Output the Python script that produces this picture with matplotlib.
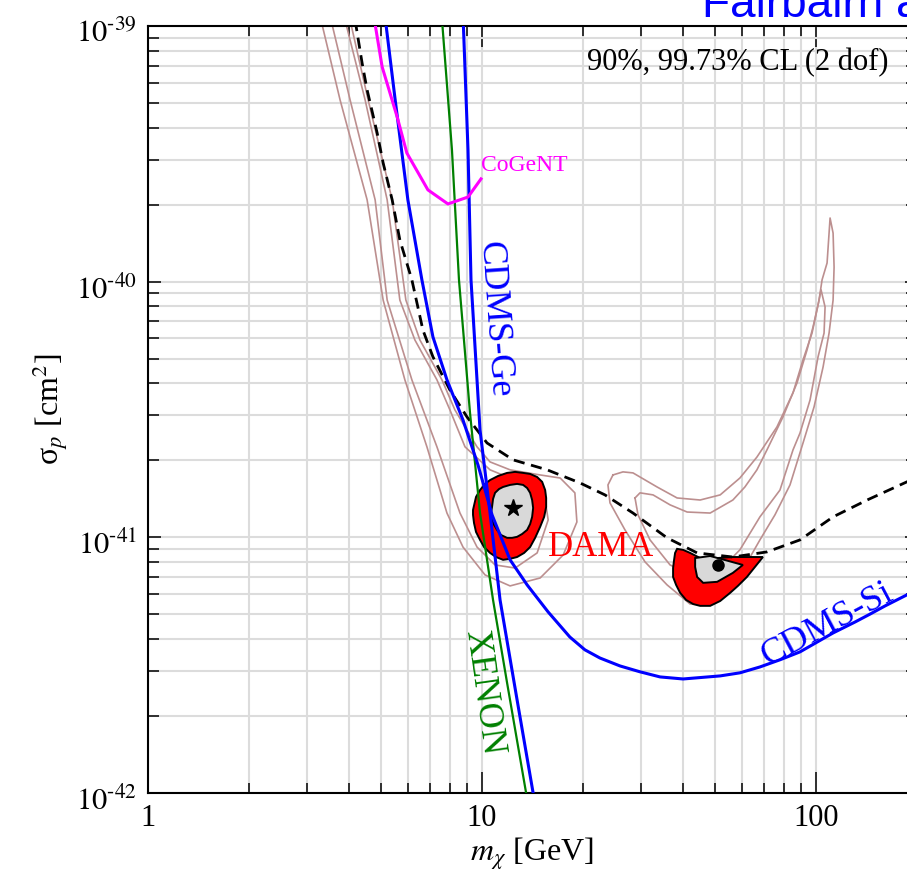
import numpy as np
import matplotlib.pyplot as plt
from matplotlib import ticker
from matplotlib.transforms import ScaledTranslation

plt.rcParams['font.family'] = 'Liberation Serif'
plt.rcParams['mathtext.fontset'] = 'stix'

# values, stored as log10(m / GeV) and log10(sigma_p / cm^2)
cdms_si_lm = [0.705, 0.713, 0.740, 0.778, 0.820, 0.853, 0.895, 0.943, 0.988, 1.030, 1.084, 1.135,
              1.198, 1.263, 1.308, 1.353, 1.413, 1.473, 1.533, 1.602, 1.713, 1.772, 1.832, 1.892,
              1.952, 2.051, 2.117, 2.162, 2.207, 2.272, 2.302]
cdms_si_ls = [-38.97, -39.000, -39.289, -39.680, -39.993, -40.216, -40.384, -40.541, -40.717,
              -40.912, -41.088, -41.186, -41.292, -41.390, -41.440, -41.472, -41.503, -41.526,
              -41.546, -41.554, -41.542, -41.530, -41.507, -41.479, -41.448, -41.374, -41.331,
              -41.300, -41.268, -41.225, -41.202]

cdms_ge_lm = [0.944, 0.958, 0.967, 0.994, 1.024, 1.054, 1.105, 1.153, 1.165]
cdms_ge_ls = [-38.99, -39.485, -39.993, -40.580, -40.905, -41.245, -41.636, -42.000, -42.106]

xenon_lm = [0.881, 0.910, 0.931, 0.964, 0.994, 1.033, 1.075, 1.132, 1.144]
xenon_ls = [-38.99, -39.485, -39.993, -40.513, -40.905, -41.245, -41.569, -42.000, -42.106]

cogent_lm = [0.677, 0.701, 0.746, 0.775, 0.838, 0.898, 0.958, 0.997]
cogent_ls = [-38.97, -39.160, -39.356, -39.497, -39.641, -39.696, -39.669, -39.598]

dashed_lm = [0.620, 0.641, 0.656, 0.686, 0.704, 0.731, 0.754, 0.790, 0.823, 0.853, 0.904, 0.955,
             1.015, 1.093, 1.195, 1.293, 1.368, 1.452, 1.554, 1.644, 1.751, 1.853, 1.952, 2.051,
             2.153, 2.272, 2.302]
dashed_ls = [-38.977, -39.145, -39.250, -39.418, -39.536, -39.680, -39.837, -39.993, -40.189,
             -40.294, -40.424, -40.529, -40.631, -40.697, -40.736, -40.787, -40.834, -40.905,
             -41.002, -41.061, -41.077, -41.057, -41.010, -40.920, -40.854, -40.783, -40.768]

# brown contours (90% and 99.73%), low-mass and high-mass islands
low_out_lm = [0.518, 0.575, 0.656, 0.704, 0.769, 0.835, 0.895, 0.943, 1.009, 1.084, 1.174, 1.243,
              1.284, 1.278, 1.234, 1.174, 1.084, 1.024, 0.985, 0.919, 0.880, 0.814, 0.772, 0.731,
              0.659, 0.605]
low_out_ls = [-38.977, -39.289, -39.680, -40.072, -40.384, -40.646, -40.905, -41.038, -41.147,
              -41.190, -41.159, -41.069, -40.940, -40.826, -40.768, -40.756, -40.736, -40.705,
              -40.646, -40.502, -40.384, -40.228, -40.072, -39.680, -39.289, -38.977]
low_in_lm = [0.548, 0.605, 0.680, 0.716, 0.790, 0.865, 0.934, 0.985, 1.039, 1.099, 1.165, 1.198,
             1.189, 1.144, 1.084, 1.024, 0.949, 0.904, 0.865, 0.799, 0.754, 0.716, 0.650, 0.590]
low_in_ls = [-38.977, -39.289, -39.680, -40.072, -40.384, -40.646, -40.905, -41.038, -41.108,
             -41.120, -41.061, -40.932, -40.854, -40.795, -40.768, -40.736, -40.646, -40.502,
             -40.384, -40.228, -40.072, -39.680, -39.289, -38.977]
high_out_lm = [1.392, 1.422, 1.452, 1.524, 1.584, 1.653, 1.713, 1.772, 1.823, 1.883, 1.931, 1.961,
               1.988, 2.009, 2.018, 2.033, 2.042, 2.051, 2.054, 2.051, 2.039, 2.021, 1.994, 1.961,
               1.922, 1.877, 1.832, 1.772, 1.698, 1.623, 1.554, 1.488, 1.428, 1.383, 1.377, 1.392]
high_out_ls = [-40.756, -40.744, -40.748, -40.803, -40.846, -40.854, -40.834, -40.768, -40.686,
               -40.568, -40.435, -40.306, -40.201, -40.072, -39.993, -39.927, -39.751, -39.810,
               -39.943, -40.072, -40.201, -40.334, -40.490, -40.631, -40.795, -40.912, -41.010,
               -41.147, -41.257, -41.261, -41.186, -41.096, -40.971, -40.865, -40.795, -40.756]
high_in_lm = [1.458, 1.473, 1.512, 1.563, 1.614, 1.683, 1.751, 1.787, 1.823, 1.853, 1.901, 1.943,
              1.973, 1.991, 2.006, 2.015, 2.027, 2.024, 2.006, 1.982, 1.952, 1.931, 1.892, 1.832,
              1.772, 1.713, 1.638, 1.563, 1.503, 1.467, 1.458]
high_in_ls = [-40.846, -40.826, -40.834, -40.873, -40.901, -40.905, -40.854, -40.803, -40.736,
              -40.658, -40.529, -40.396, -40.267, -40.177, -40.091, -40.032, -40.099, -40.201,
              -40.294, -40.463, -40.592, -40.658, -40.815, -40.920, -41.049, -41.127, -41.155,
              -41.108, -41.010, -40.912, -40.846]

# DAMA regions (red 99.73%, grey 90%) and best-fit points
dama_lo99_lm = [0.973, 0.982, 0.994, 1.009, 1.024, 1.048, 1.075, 1.099, 1.123, 1.144, 1.165, 1.180,
                1.189, 1.192, 1.192, 1.186, 1.174, 1.159, 1.144, 1.126, 1.105, 1.084, 1.063, 1.042,
                1.024, 1.006, 0.994, 0.982, 0.976, 0.973]
dama_lo99_ls = [-40.893, -40.842, -40.815, -40.791, -40.776, -40.760, -40.748, -40.744, -40.748,
                -40.752, -40.764, -40.783, -40.815, -40.846, -40.881, -40.920, -40.959, -41.002,
                -41.038, -41.061, -41.077, -41.084, -41.088, -41.077, -41.061, -41.038, -41.010,
                -40.979, -40.944, -40.912]
dama_lo90_lm = [1.030, 1.033, 1.039, 1.051, 1.063, 1.084, 1.105, 1.123, 1.135, 1.144, 1.150, 1.153,
                1.150, 1.144, 1.135, 1.120, 1.105, 1.090, 1.075, 1.057, 1.045, 1.036, 1.030, 1.027]
dama_lo90_ls = [-40.881, -40.850, -40.826, -40.811, -40.803, -40.795, -40.791, -40.795, -40.807,
                -40.826, -40.854, -40.885, -40.920, -40.948, -40.971, -40.987, -40.998, -41.002,
                -41.002, -40.991, -40.971, -40.951, -40.932, -40.905]
dama_hi99_lm = [1.841, 1.817, 1.793, 1.766, 1.743, 1.713, 1.683, 1.653, 1.632, 1.611, 1.593, 1.581,
                1.572, 1.572, 1.575, 1.578, 1.584, 1.602, 1.623, 1.653, 1.704, 1.751, 1.796]
dama_hi99_ls = [-41.077, -41.116, -41.155, -41.190, -41.217, -41.249, -41.268, -41.268, -41.261,
                -41.245, -41.217, -41.186, -41.155, -41.120, -41.088, -41.061, -41.045, -41.049,
                -41.061, -41.081, -41.081, -41.077, -41.077]
dama_hi90_lm = [1.638, 1.683, 1.781, 1.751, 1.704, 1.662, 1.644, 1.638]
dama_hi90_ls = [-41.081, -41.073, -41.108, -41.139, -41.174, -41.178, -41.155, -41.116]
best_lo = (1.093, -40.885)
best_hi = (1.707, -41.108)

x_ticks = [1, 10, 100]
y_ticks = [1e-42, 1e-41, 1e-40, 1e-39]


def pts(lm, ls):
    return 10 ** np.array(lm), 10 ** np.array(ls)


fig = plt.figure(figsize=(9.07, 8.73), dpi=100)
# the right end of the axes sits just past the figure edge, as in the original crop
ax = fig.add_axes([148 / 907, 80 / 873, 768.6 / 907, 767 / 873])
ax.set_xscale('log')
ax.set_yscale('log')
ax.set_xlim(1, 200)
ax.set_ylim(1e-42, 1e-39)
ax.set_xticks(x_ticks)
ax.set_yticks(y_ticks)

ax.set_axisbelow(True)
ax.grid(which='both', color='#dcdcdc', lw=1.5)

brown = '#bc8f8f'
for lm, ls in [(low_out_lm, low_out_ls), (low_in_lm, low_in_ls),
               (high_out_lm, high_out_ls), (high_in_lm, high_in_ls)]:
    ax.plot(*pts(lm, ls), color=brown, lw=1.2, zorder=2)

ax.fill(*pts(dama_lo99_lm, dama_lo99_ls), fc='red', ec='black', lw=1.4, zorder=3)
ax.fill(*pts(dama_lo90_lm, dama_lo90_ls), fc='#d9d9d9', ec='black', lw=1.4, zorder=3)
ax.fill(*pts(dama_hi99_lm, dama_hi99_ls), fc='red', ec='black', lw=1.4, zorder=3)
ax.fill(*pts(dama_hi90_lm, dama_hi90_ls), fc='#d9d9d9', ec='black', lw=1.4, zorder=3)
ax.plot(10 ** best_lo[0], 10 ** best_lo[1], marker='*', color='black', ms=13, zorder=4)
ax.plot(10 ** best_hi[0], 10 ** best_hi[1], marker='o', color='black', ms=8, zorder=4)

ax.plot(*pts(dashed_lm, dashed_ls), color='black', lw=2.0, dashes=(4, 2.4), zorder=4)
ax.plot(*pts(xenon_lm, xenon_ls), color='#008000', lw=1.6, zorder=5)
ax.plot(*pts(cdms_ge_lm, cdms_ge_ls), color='blue', lw=2.2, zorder=5)
ax.plot(*pts(cdms_si_lm, cdms_si_ls), color='blue', lw=2.2, zorder=5)
ax.plot(*pts(cogent_lm, cogent_ls), color='magenta', lw=2.2, zorder=5)

ax.text(9.9, 2.85e-40, 'CoGeNT', color='magenta', fontsize=17, ha='left', va='center')
ax.text(10.9, 7.1e-41, 'CDMS-Ge', color='blue', fontsize=26, rotation=-86,
        ha='center', va='center', rotation_mode='anchor')
ax.text(10.07, 2.47e-42, 'XENON', color='#008000', fontsize=26, rotation=-82,
        ha='center', va='center', rotation_mode='anchor')
ax.text(22.7, 9.1e-42, 'DAMA', color='red', fontsize=25, ha='center', va='center')
ax.text(108, 4.55e-42, 'CDMS-Si', color='blue', fontsize=26, rotation=28,
        ha='center', va='center', rotation_mode='anchor')

fig.text(587 / 907, 1 - 70 / 873, '90%, 99.73% CL (2 dof)', fontsize=22, va='baseline')
fig.text(702 / 907, 1 - 17 / 873, 'Fairbairn and Schwetz', fontsize=33, color='blue',
         family='Liberation Sans', va='baseline')

for s in ax.spines.values():
    s.set_linewidth(1.5)
ax.tick_params(which='both', direction='in', top=True, right=True, width=1.1, labelsize=22)
ax.tick_params(axis='x', which='major', length=15, pad=8)
ax.tick_params(axis='x', which='minor', length=7)
ax.tick_params(axis='y', which='major', length=9, pad=8)
ax.tick_params(axis='y', which='minor', length=8)
ax.xaxis.set_major_formatter(ticker.FuncFormatter(lambda v, p: f'{v:g}'))
ax.xaxis.set_minor_formatter(ticker.NullFormatter())
ax.yaxis.set_major_formatter(ticker.FuncFormatter(
    lambda v, p: '$10^{\u2010' + str(abs(int(round(np.log10(v))))) + '}$'))
ax.yaxis.set_minor_formatter(ticker.NullFormatter())
shift = ScaledTranslation(0, -0.05, fig.dpi_scale_trans)
for lab in ax.get_yticklabels():
    lab.set_transform(lab.get_transform() + shift)

ax.set_xlabel(r'$m_\chi$ [GeV]', fontsize=23, labelpad=2)
ax.set_ylabel('σ$_p$ [cm$^2$]', fontsize=23, labelpad=4)

fig.savefig('out.png', dpi=100)
